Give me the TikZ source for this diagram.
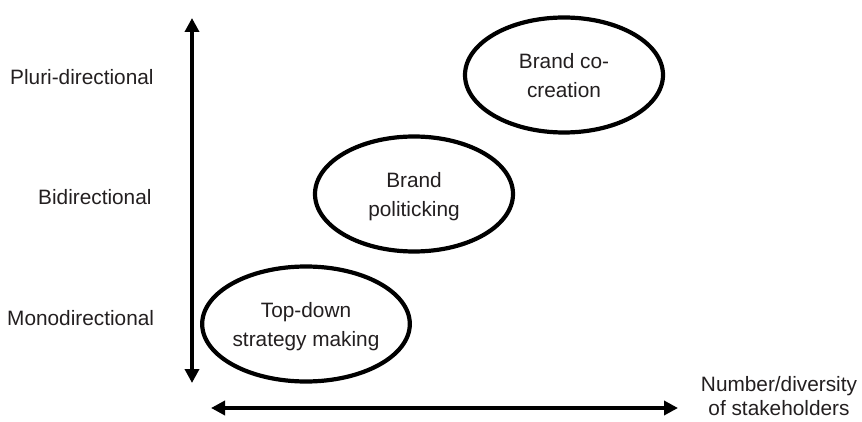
\documentclass[tikz,border=0pt]{standalone}
\usepackage{fontspec}
\setmainfont{Liberation Sans}
\usetikzlibrary{shapes.geometric,arrows.meta}
\definecolor{textgray}{HTML}{231F20}
\begin{document}
\begin{tikzpicture}[x=1pt,y=-1pt,
  oval/.style={ellipse, draw=black, line width=4.2pt, minimum width=198pt, minimum height=115pt, inner sep=0pt, align=center, text depth=0pt, font=\fontsize{20.8}{29}\selectfont, text=textgray},
  lbl/.style={anchor=base west, font=\fontsize{20.8}{25}\selectfont, text=textgray, inner sep=0pt},
  axis/.style={line width=3.5pt, draw=black, {Triangle[length=14pt,width=14pt]}-{Triangle[length=14pt,width=14pt]}}]
\fill[white] (0,0) rectangle (862,422);
\useasboundingbox (0,0) rectangle (862,422);
% axes
\coordinate (vtop) at (192,18);
\coordinate (vbot) at (192,383);
\coordinate (hleft) at (211,408);
\coordinate (hright) at (678,408);
\draw[axis] (vtop) -- (vbot);
\draw[axis] (hleft) -- (hright);
% row labels
\node[lbl] (pluri) at (10,85) {Pluri-directional};
\node[lbl] (bidi) at (38,205) {Bidirectional};
\node[lbl] (mono) at (7,325) {Monodirectional};
% axis label
\node[align=center, font=\fontsize{20.8}{24}\selectfont, text=textgray, inner sep=0pt] (stake) at (779,396) {Number/diversity\\of stakeholders};
% ellipses
\node[oval] (topdown) at (306,324) {Top-down\\strategy making};
\node[oval] (politick) at (414,194) {Brand\\politicking};
\node[oval] (cocreate) at (564,75) {Brand co-\\creation};
\end{tikzpicture}
\end{document}
